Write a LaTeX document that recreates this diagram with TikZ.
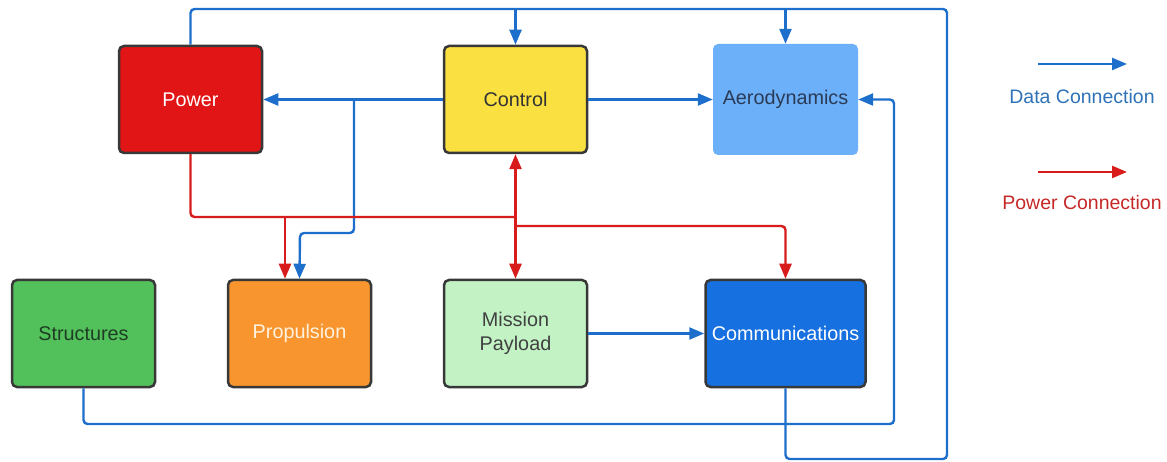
\documentclass[tikz,border=0pt]{standalone}
\usepackage{fontspec}
\setmainfont{Liberation Sans}
\usetikzlibrary{arrows.meta}
\definecolor{cPow}{HTML}{E11515}
\definecolor{cCtl}{HTML}{FBE042}
\definecolor{cAero}{HTML}{6BB0F8}
\definecolor{cStr}{HTML}{52C15C}
\definecolor{cProp}{HTML}{F8952E}
\definecolor{cMis}{HTML}{C3F3C5}
\definecolor{cCom}{HTML}{1670E0}
\definecolor{cBord}{HTML}{383838}
\definecolor{dblue}{HTML}{1E6FCC}
\definecolor{dred}{HTML}{D81B1B}
\definecolor{tblue}{HTML}{2E72B8}
\definecolor{tred}{HTML}{C62828}
\tikzset{
  blk/.style={rectangle, rounded corners=5pt, minimum width=143pt, minimum height=107pt,
    inner sep=0pt, align=center, font=\fontsize{19.8}{24}\selectfont},
  bordered/.style={blk, draw=cBord, line width=2.5pt},
  data/.style={draw=dblue, line width=2.4pt, rounded corners=4pt},
  pwr/.style={draw=dred, line width=2.4pt, rounded corners=4pt},
  tip/.style={-{Triangle[length=15pt,width=12pt]}},
  lgd/.style={font=\fontsize{19.5}{24}\selectfont, inner sep=0pt}
}
\begin{document}
\begin{tikzpicture}[x=1pt,y=-1pt]
\useasboundingbox (0,0) rectangle (1167,462);
% blocks
\node[bordered, fill=cPow, text=white] (pow) at (190.5,99.5) {Power};
\node[bordered, fill=cCtl, text=black!80] (ctrl) at (515.5,99.5) {Control};
\node[blk, fill=cAero, text={rgb,255:red,43;green,58;blue,85}, minimum width=145pt, minimum height=111pt] (aero) at (785.5,99.5) {Aerodynamics};
\node[bordered, fill=cStr, text={rgb,255:red,31;green,61;blue,34}] (str) at (83.5,333.5) {Structures};
\node[bordered, fill=cProp, text={rgb,255:red,255;green,243;blue,224}] (prop) at (299.5,333.5) {Propulsion};
\node[bordered, fill=cMis, text=black!75] (mis) at (515.5,333.5) {Mission\\Payload};
\node[bordered, fill=cCom, text=white, minimum width=160pt] (comm) at (785.5,333.5) {Communications};
% junction coordinates
\coordinate (bp) at (354,99.5);
\coordinate (topC) at (515.5,9);
\coordinate (topA) at (785.5,9);
\coordinate (rp) at (285,217);
\coordinate (rj) at (515.5,217);
\coordinate (rj2) at (515.5,226);
% data connections
\draw[data, tip] (ctrl.west) -- (pow.east);
\draw[data, tip] (bp) -- (354,233) -- (300,233) -- (prop.north);
\draw[data, tip] (ctrl.east) -- (aero.west);
\draw[data, tip] (mis.east) -- (comm.west);
\draw[data, tip] (str.south) |- (894,424) |- (aero.east);
\draw[data] (comm.south) |- (947,459) -- (947,9) -| (pow.north);
\draw[data, tip] (topC) -- (ctrl.north);
\draw[data, tip] (topA) -- (aero.north);
% power connections
\draw[pwr] (pow.south) |- (rj);
\draw[pwr, tip] (rp) -- (rp |- prop.north);
\draw[pwr, {Triangle[length=15pt,width=12pt]}-{Triangle[length=15pt,width=12pt]}, rounded corners=0pt] (ctrl.south) -- (mis.north);
\draw[pwr, tip] (rj2) -| (comm.north);
% legend
\coordinate (la1) at (1038,64);
\coordinate (la2) at (1127,64);
\coordinate (lb1) at (1038,172);
\coordinate (lb2) at (1127,172);
\draw[data, tip] (la1) -- (la2);
\draw[pwr, tip] (lb1) -- (lb2);
\node[lgd, text=tblue] (ld) at (1082,97) {Data Connection};
\node[lgd, text=tred] (lp) at (1082,203) {Power Connection};
\end{tikzpicture}
\end{document}
